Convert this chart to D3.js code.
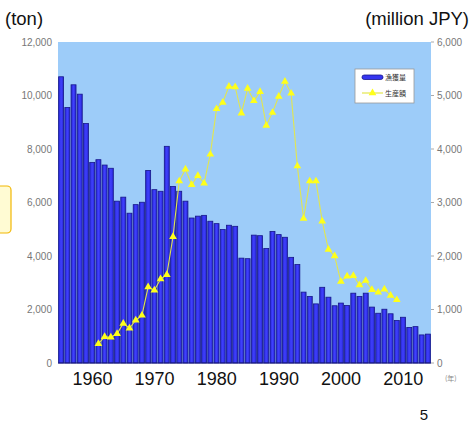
<!DOCTYPE html>
<html>
<head>
<meta charset="utf-8">
<script src="https://cdn.jsdelivr.net/npm/d3@7"></script>
<style>
  html, body { margin: 0; padding: 0; background: #ffffff; }
  svg { display: block; }
</style>
</head>
<body>
<svg id="chart" width="471" height="423"></svg>
<script>
// Annual catch (ton), 1954-2013
const years = d3.range(1954, 2014);
const catchTon = [
  10700, 9550, 10400, 10050, 8950, 7500, 7600, 7400, 7280, 6050,
  6200, 5600, 5920, 6010, 7200, 6480, 6420, 8100, 6600, 6420,
  6050, 5420, 5490, 5520, 5300, 5210, 4990, 5150, 5110, 3920,
  3900, 4780, 4760, 4280, 4920, 4800, 4700, 3950, 3680, 2650,
  2490, 2210, 2830, 2460, 2140, 2240, 2150, 2610, 2490, 2610,
  2090, 1860, 2010, 1840, 1590, 1710, 1330, 1360, 1050, 1080
];
// Production value (million JPY), 1960-2008
const valueYears = d3.range(1960, 2009);
const productionValue = [
  360, 490, 480, 545, 740, 650, 800, 890, 1420, 1360,
  1570, 1650, 2360, 3400, 3620, 3330, 3500, 3360, 3900, 4750,
  4870, 5170, 5160, 4670, 5130, 4900, 5070, 4440, 4680, 4980,
  5260, 5040, 3680, 2700, 3400, 3400, 2650, 2120, 2000, 1525,
  1620, 1630, 1460, 1540, 1370, 1320, 1380, 1260, 1180
];
const leftTicks = [0, 2000, 4000, 6000, 8000, 10000, 12000];
const rightTicks = [0, 1000, 2000, 3000, 4000, 5000, 6000];
const decadeLabels = [1960, 1970, 1980, 1990, 2000, 2010];
const legendNames = ["漁獲量", "生産額"];

const svg = d3.select("#chart");
const plot = { left: 58, right: 431, top: 42, bottom: 363 };

const x = d3.scaleBand().domain(years).range([plot.left, plot.right])
  .paddingInner(0.2).paddingOuter(0.1);
const yL = d3.scaleLinear().domain([0, 12000]).range([plot.bottom, plot.top]);
const yR = d3.scaleLinear().domain([0, 6000]).range([plot.bottom, plot.top]);

const defs = svg.append("defs");
const grad = defs.append("linearGradient").attr("id", "barFill")
  .attr("x1", "0").attr("x2", "1").attr("y1", "0").attr("y2", "0");
grad.append("stop").attr("offset", "0%").attr("stop-color", "#2626d0");
grad.append("stop").attr("offset", "50%").attr("stop-color", "#4040ff");
grad.append("stop").attr("offset", "100%").attr("stop-color", "#2626d0");

// side callout edge
svg.append("rect").attr("x", -10).attr("y", 186).attr("width", 21).attr("height", 47)
  .attr("rx", 4).attr("fill", "#fffbd3").attr("stroke", "#f2b705").attr("stroke-width", 1.2);

// plot background
svg.append("rect").attr("x", plot.left).attr("y", plot.top)
  .attr("width", plot.right - plot.left).attr("height", plot.bottom - plot.top)
  .attr("fill", "#9dccf9");

// bars
svg.append("g").selectAll("rect").data(years).join("rect")
  .attr("x", d => x(d))
  .attr("y", (d, i) => yL(catchTon[i]))
  .attr("width", x.bandwidth())
  .attr("height", (d, i) => yL(0) - yL(catchTon[i]))
  .attr("fill", "url(#barFill)")
  .attr("stroke", "#16168a").attr("stroke-width", 0.8);

svg.append("line").attr("x1", plot.left).attr("x2", plot.right)
  .attr("y1", plot.bottom).attr("y2", plot.bottom)
  .attr("stroke", "#1a1a7a").attr("stroke-width", 1.2);

// production value line
const cx = d => x(d) + x.bandwidth() / 2;
const line = d3.line().x((d, i) => cx(valueYears[i])).y(d => yR(d));
svg.append("path").datum(productionValue).attr("d", line)
  .attr("fill", "none").attr("stroke", "#e2e650").attr("stroke-width", 1.1);
const tri = d3.symbol().type(d3.symbolTriangle).size(26);
svg.append("g").selectAll("path").data(productionValue).join("path")
  .attr("d", tri)
  .attr("transform", (d, i) => `translate(${cx(valueYears[i])},${yR(d)})`)
  .attr("fill", "#ffff1a");

// left axis labels
svg.append("g").selectAll("text").data(leftTicks).join("text")
  .attr("x", 52).attr("y", d => yL(d) + 3.5)
  .attr("text-anchor", "end")
  .attr("font-family", "Liberation Sans, Arial, sans-serif")
  .attr("font-size", 10).attr("fill", "#777")
  .text(d3.format(","));

// right axis ticks and labels
svg.append("g").selectAll("line").data(rightTicks).join("line")
  .attr("x1", plot.right).attr("x2", plot.right + 3)
  .attr("y1", d => yR(d)).attr("y2", d => yR(d))
  .attr("stroke", "#aaa").attr("stroke-width", 1);
svg.append("g").selectAll("text").data(rightTicks).join("text")
  .attr("x", 437).attr("y", d => yR(d) + 3.5)
  .attr("font-family", "Liberation Sans, Arial, sans-serif")
  .attr("font-size", 10).attr("fill", "#777")
  .text(d3.format(","));

// decade labels
svg.append("g").selectAll("text").data(decadeLabels).join("text")
  .attr("x", d => cx(d) - 6).attr("y", 385)
  .attr("text-anchor", "middle")
  .attr("font-family", "Liberation Sans, Arial, sans-serif")
  .attr("font-size", 18).attr("fill", "#111")
  .text(d => d);

svg.append("text").attr("x", 445).attr("y", 381)
  .attr("font-family", "Noto Sans CJK JP, sans-serif")
  .attr("font-size", 7).attr("fill", "#888").text("(年)");

// unit captions
svg.append("text").attr("x", 5).attr("y", 25)
  .attr("font-family", "Liberation Sans, Arial, sans-serif")
  .attr("font-size", 18.5).attr("fill", "#111").text("(ton)");
svg.append("text").attr("x", 469).attr("y", 25).attr("text-anchor", "end")
  .attr("font-family", "Liberation Sans, Arial, sans-serif")
  .attr("font-size", 18.5).attr("fill", "#111").text("(million JPY)");

// legend
const lg = svg.append("g").attr("transform", "translate(355,69)");
lg.append("rect").attr("width", 59).attr("height", 34)
  .attr("fill", "#ffffff").attr("stroke", "#999").attr("stroke-width", 0.8);
lg.append("rect").attr("x", 7).attr("y", 6).attr("width", 21).attr("height", 4.5)
  .attr("rx", 2.2).attr("fill", "#3535f0").attr("stroke", "#16168a").attr("stroke-width", 0.8);
lg.append("line").attr("x1", 7).attr("x2", 28).attr("y1", 24).attr("y2", 24)
  .attr("stroke", "#e2e650").attr("stroke-width", 1.2);
lg.append("path").attr("d", tri).attr("transform", "translate(17.5,24)").attr("fill", "#ffff1a");
lg.selectAll("text.name").data(legendNames).join("text")
  .attr("class", "name")
  .attr("x", 30).attr("y", (d, i) => 11 + i * 16)
  .attr("font-family", "Noto Sans CJK JP, sans-serif")
  .attr("font-size", 7).attr("fill", "#333")
  .text(d => d);

// page number
svg.append("text").attr("x", 424).attr("y", 420).attr("text-anchor", "middle")
  .attr("font-family", "Liberation Sans, Arial, sans-serif")
  .attr("font-size", 15).attr("fill", "#111").text("5");
</script>
</body>
</html>
